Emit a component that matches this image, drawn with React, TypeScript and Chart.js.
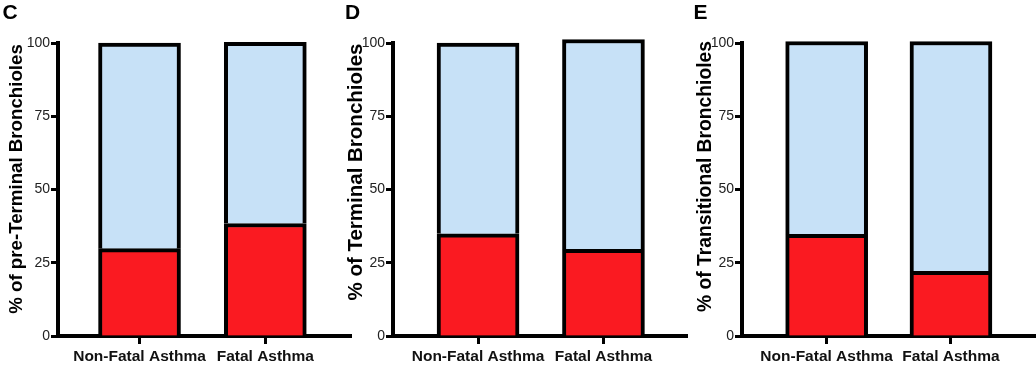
import React, { useEffect, useRef } from "react";
import { Chart, registerables } from "chart.js";

Chart.register(...registerables);

// ---------- data ----------
const categories = ["Non-Fatal Asthma", "Fatal Asthma"];
const panelLetters = ["C", "D", "E"];
const yTitles = [
  "% of pre-Terminal Bronchioles",
  "% of Terminal Bronchioles",
  "% of Transitional Bronchioles",
];
const yTickValues = [0, 25, 50, 75, 100];

// red (lower) segment and light-blue (upper) segment of each stacked bar
const redC = [29.8, 38.4];
const blueC = [70.2, 61.8];
const redD = [34.9, 29.6];
const blueD = [65.1, 71.6];
const redE = [34.7, 22.1];
const blueE = [65.8, 78.4];

// ---------- styling / layout ----------
const FONT = "'Liberation Sans', Arial, Helvetica, sans-serif";
const RED = "#FA1A21";
const BLUE = "#C7E1F7";

const panels = [
  { letter: panelLetters[0], title: yTitles[0], red: redC, blue: blueC, left: 0, width: 352, axisW: 58, xMin: -0.648, xMax: 1.689, titleX: 16.5, titleY: 179, titleSize: 18.7, letterX: 2.5 },
  { letter: panelLetters[1], title: yTitles[1], red: redD, blue: blueD, left: 340, width: 348, axisW: 53, xMin: -0.678, xMax: 1.674, titleX: 16.5, titleY: 172, titleSize: 20.5, letterX: 5 },
  { letter: panelLetters[2], title: yTitles[2], red: redE, blue: blueE, left: 690, width: 346, axisW: 52, xMin: -0.681, xMax: 1.684, titleX: 15.5, titleY: 176.5, titleSize: 19.3, letterX: 3.5 },
];

const HEIGHT = 365;

const panelTextPlugin = {
  id: "panelText",
  afterDraw(chart: any, _args: any, opts: any) {
    const ctx = chart.ctx;
    ctx.save();
    ctx.fillStyle = "#000";
    ctx.font = `bold 21px ${FONT}`;
    ctx.textAlign = "left";
    ctx.textBaseline = "alphabetic";
    ctx.fillText(opts.letter, opts.letterX, 18.5);
    ctx.translate(opts.titleX, opts.titleY);
    ctx.rotate(-Math.PI / 2);
    ctx.font = `bold ${opts.titleSize}px ${FONT}`;
    ctx.textAlign = "center";
    ctx.textBaseline = "middle";
    ctx.fillText(opts.title, 0, 0);
    ctx.restore();
  },
};

function Panel({ p }: { p: any }) {
  const ref = useRef<HTMLCanvasElement | null>(null);

  useEffect(() => {
    if (!ref.current) return;
    const chart = new Chart(ref.current, {
      type: "bar",
      data: {
        datasets: [
          {
            label: "red",
            data: p.red.map((v: number, i: number) => ({ x: i, y: v })),
            backgroundColor: RED,
            borderColor: "#000",
            borderWidth: 4,
            barThickness: 82,
            grouped: false,
            clip: false,
          } as any,
          {
            label: "blue",
            data: p.blue.map((v: number, i: number) => ({ x: i, y: v })),
            backgroundColor: BLUE,
            borderColor: "#000",
            borderWidth: 4,
            barThickness: 82,
            grouped: false,
            clip: false,
          } as any,
        ],
      },
      options: {
        animation: false,
        responsive: false,
        devicePixelRatio: 1,
        layout: { padding: { top: 43, left: 0, right: 0, bottom: 0 } },
        plugins: {
          legend: { display: false },
          tooltip: { enabled: false },
          panelText: {
            letter: p.letter,
            title: p.title,
            titleX: p.titleX,
            titleY: p.titleY,
            titleSize: p.titleSize,
            letterX: p.letterX,
          },
        } as any,
        scales: {
          x: {
            type: "linear",
            stacked: false,
            offset: false,
            bounds: "data",
            grace: 0,
            min: p.xMin,
            max: p.xMax,
            z: 1,
            afterBuildTicks: (scale: any) => {
              scale.ticks = categories.map((_, i) => ({ value: i }));
            },
            afterFit: (scale: any) => {
              scale.height = 29;
            },
            ticks: {
              autoSkip: false,
              maxRotation: 0,
              padding: 3,
              color: "#111",
              font: { family: FONT, size: 15.5, weight: "bold" },
              callback: (v: any) => categories[v as number] ?? "",
            },
            grid: {
              offset: false,
              drawOnChartArea: false,
              drawTicks: true,
              tickLength: 8,
              tickWidth: 3,
              tickColor: "#000",
            },
            border: { display: true, color: "#000", width: 4 },
          },
          y: {
            type: "linear",
            stacked: true,
            min: 0,
            max: 100,
            afterBuildTicks: (scale: any) => {
              scale.ticks = yTickValues.map((v) => ({ value: v }));
            },
            afterFit: (scale: any) => {
              scale.width = p.axisW;
            },
            ticks: {
              padding: 1,
              color: "#222",
              font: { family: FONT, size: 14 },
            },
            grid: {
              drawOnChartArea: false,
              drawTicks: true,
              tickLength: 7,
              tickWidth: 3,
              tickColor: "#000",
            },
            border: { display: true, color: "#000", width: 4 },
          },
        },
      } as any,
      plugins: [panelTextPlugin as any],
    });
    return () => chart.destroy();
  }, [p]);

  return (
    <canvas
      ref={ref}
      width={p.width}
      height={HEIGHT}
      style={{ position: "absolute", left: p.left, top: 0, width: p.width, height: HEIGHT }}
    />
  );
}

export default function App() {
  return (
    <div style={{ position: "absolute", left: 0, top: 0, width: 1036, height: HEIGHT, background: "#fff" }}>
      {panels.map((p, i) => (
        <Panel key={i} p={p} />
      ))}
    </div>
  );
}
